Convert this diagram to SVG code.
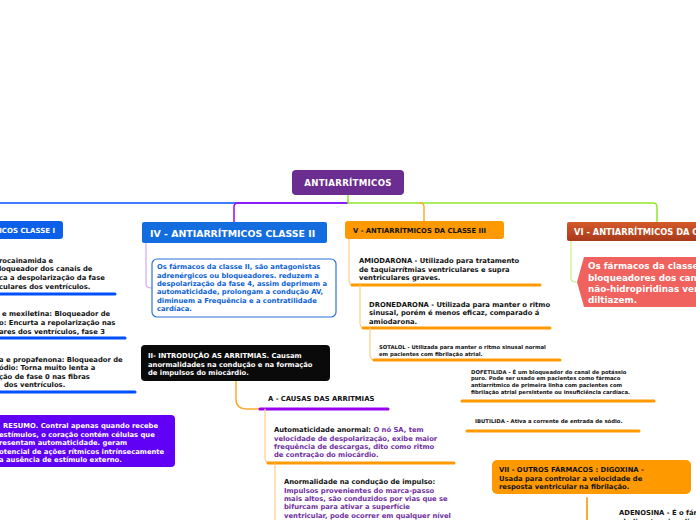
<svg xmlns="http://www.w3.org/2000/svg" width="696" height="520" viewBox="0 0 696 520">
<defs>
<style>
text{font-family:"DejaVu Sans",Verdana,sans-serif;font-weight:bold;}
.t{font-size:6.8px;fill:#111;}
.w{fill:#fff;}
.pu{fill:#7030a0;}
.bl{fill:#0b5fd6;}
.sm{font-size:5.3px;fill:#111;}
.ln{fill:none;stroke-linecap:round;}
.ub{stroke:#0050ff;stroke-width:3;}
.uo{stroke:#ff9900;stroke-width:3;}
.lo{stroke:#ffcc88;stroke-width:1.2;}
</style>
<linearGradient id="g6" x1="0" y1="0" x2="0" y2="1">
<stop offset="0" stop-color="#d45a2a"/>
<stop offset="1" stop-color="#a8391a"/>
</linearGradient>
</defs>
<rect width="696" height="520" fill="#fff"/>
<g id="connectors">
<path class="ln" d="M0,203 H348" stroke="#0050ff" stroke-width="1.5"/>
<path class="ln" d="M348,203 H238 Q234,203 234,207 V222" stroke="#a000ff" stroke-width="1.5"/>
<path class="ln" d="M348,195 V203 H653 Q657,203 657,207 V222" stroke="#8fe82c" stroke-width="1.5"/>
<path class="ln" d="M420,203 Q424,203 424,207 V221" stroke="#ffaa33" stroke-width="1.5"/>
<path class="ln" d="M146,243 V284 Q146,288 152,288" stroke="#d3a8f5" stroke-width="1.2"/>
<path class="ln" d="M236,381 V399 Q236,409 247,409 H262" stroke="#ffaa33" stroke-width="1.5"/>
<path class="ln" d="M260,409 H388" stroke="#9a00f0" stroke-width="3"/>
<path class="ln lo" d="M265,409 V458 Q265,463 270,463"/>
<path class="ln uo" d="M268,463 H454"/>
<path class="ln lo" d="M275,463 V522"/>
<path class="ln lo" d="M349,239 V280 Q349,285 354,285"/>
<path class="ln uo" d="M352,285 H540"/>
<path class="ln lo" d="M360,285 V323 Q360,328 365,328"/>
<path class="ln uo" d="M363,328 H550"/>
<path class="ln lo" d="M370,328 V355 Q370,360 375,360"/>
<path class="ln uo" d="M374,360 H560"/>
<path class="ln uo" d="M462,401 H654"/>
<path class="ln uo" d="M467,431 H639"/>
<path class="ln" d="M587,498 V522" stroke="#ffaa33" stroke-width="2"/>
<path class="ln" d="M571,241 V278 Q571,282 576,282" stroke="#c8f08c" stroke-width="1.2"/>
<path class="ln ub" d="M-2,294 H115"/>
<path class="ln ub" d="M-2,338 H125"/>
<path class="ln ub" d="M-2,392 H135"/>
</g>
<g id="root">
<rect x="292" y="170" width="112" height="25" rx="4" fill="#6b2d90"/>
<text x="348" y="186" text-anchor="middle" class="w" font-size="8.6" letter-spacing="0.3">ANTIARRÍTMICOS</text>
</g>
<g id="classe1">
<rect x="-10" y="221" width="73" height="18" rx="3" fill="#0b5fe8"/>
<text x="55" y="233" text-anchor="end" class="w" font-size="7">ANTIARRÍTMICOS CLASSE I</text>
</g>
<g id="classe1-a">
<text class="t"><tspan x="-1" y="262.5">rocainamida e</tspan><tspan x="-1" y="271">loqueador dos canais de</tspan><tspan x="-1" y="280">ca a despolarização da fase</tspan><tspan x="-1" y="288.5">culares dos ventrículos.</tspan></text>
</g>
<g id="classe1-b">
<text class="t"><tspan x="2" y="316">e mexiletina: Bloqueador de</tspan><tspan x="-1" y="325">o: Encurta a repolarização nas</tspan><tspan x="-1" y="333.5">ares dos ventrículos, fase 3</tspan></text>
</g>
<g id="classe1-c">
<text class="t"><tspan x="-1" y="361.5">a e propafenona: Bloqueador de</tspan><tspan x="-1" y="370">ódio: Torna muito lenta a</tspan><tspan x="-1" y="378.5">ção de fase 0 nas fibras</tspan><tspan x="4" y="387">dos ventrículos.</tspan></text>
</g>
<g id="resumo">
<rect x="-10" y="415" width="185" height="52" rx="4" fill="#6000f5"/>
<text class="t w" font-size="7.2"><tspan x="3" y="428">RESUMO. Contral apenas quando recebe</tspan><tspan x="-1" y="436.5">estímulos, o coração contém células que</tspan><tspan x="-1" y="445">resentam automaticidade. geram</tspan><tspan x="-1" y="453.5">otencial de ações rítmicos intrínsecamente</tspan><tspan x="-1" y="462">a ausência de estímulo externo.</tspan></text>
</g>
<g id="classe2">
<rect x="142" y="222" width="185" height="21" rx="2" fill="#136ddf"/>
<text x="150" y="236.5" class="w" font-size="9.4">IV - ANTIARRÍTMICOS CLASSE II</text>
</g>
<g id="classe2-texto">
<rect x="152" y="259" width="184" height="58" rx="5" fill="#fff" stroke="#2a72d8" stroke-width="1.2"/>
<text class="t bl" font-size="6.9"><tspan x="157" y="269">Os fármacos da classe II, são antagonistas</tspan><tspan x="157" y="277.5">adrenérgicos ou bloqueadores. reduzem a</tspan><tspan x="157" y="286">despolarização da fase 4, assim deprimem a</tspan><tspan x="157" y="294.3">automaticidade, prolongam a condução AV,</tspan><tspan x="157" y="302.7">diminuem a Frequência e a contratilidade</tspan><tspan x="157" y="311.3">cardíaca.</tspan></text>
</g>
<g id="introducao">
<rect x="141" y="345" width="189" height="36" rx="4" fill="#0a0a0a"/>
<text class="t w" font-size="7.2"><tspan x="148" y="358">II- INTRODUÇÃO AS ARRITMIAS. Causam</tspan><tspan x="148" y="366.5">anormalidades na condução e na formação</tspan><tspan x="148" y="375">de impulsos do miocárdio.</tspan></text>
</g>
<g id="causas">
<text x="268" y="401" class="t">A - CAUSAS DAS ARRITMIAS</text>
</g>
<g id="automaticidade">
<text class="t"><tspan x="274" y="432">Automaticidade anormal: </tspan><tspan class="pu">O nó SA, tem</tspan></text>
<text class="t pu"><tspan x="274" y="440.5">velocidade de despolarização, exibe maior</tspan><tspan x="274" y="449">frequência de descargas, dito como ritmo</tspan><tspan x="274" y="457.3">de contração do miocárdio.</tspan></text>
</g>
<g id="conducao">
<text x="284" y="484" class="t">Anormalidade na condução de impulso:</text>
<text class="t pu"><tspan x="284" y="492.5">Impulsos provenientes do marca-passo</tspan><tspan x="284" y="501">mais altos, são conduzidos por vias que se</tspan><tspan x="284" y="509.3">bifurcam para ativar a superfície</tspan><tspan x="284" y="517.7">ventricular, pode ocorrer em qualquer nível</tspan></text>
</g>
<g id="classe3">
<rect x="345" y="221" width="159" height="18" rx="3" fill="#ff9900"/>
<text x="353" y="233" class="t" font-size="7.3">V - ANTIARRÍTMICOS DA CLASSE III</text>
</g>
<g id="amiodarona">
<text class="t"><tspan x="359" y="263">AMIODARONA - Utilizado para tratamento</tspan><tspan x="359" y="271.5">de taquiarrítmias ventriculares e supra</tspan><tspan x="359" y="280">ventriculares graves.</tspan></text>
</g>
<g id="dronedarona">
<text class="t"><tspan x="369" y="307">DRONEDARONA - Utilizada para manter o ritmo</tspan><tspan x="369" y="315.3">sinusal, porém  é menos eficaz, comparado á</tspan><tspan x="369" y="323.7">amiodarona.</tspan></text>
</g>
<g id="sotalol">
<text class="sm"><tspan x="379" y="348.5">SOTALOL - Utilizada para manter o ritmo sinusal normal</tspan><tspan x="379" y="356">em pacientes com  fibrilação atrial.</tspan></text>
</g>
<g id="dofetilida">
<text class="sm" font-size="5.5"><tspan x="471" y="373.5">DOFETILIDA - É um bloqueador do canal de potássio</tspan><tspan x="471" y="380.3">puro. Pode ser usado em pacientes como fármaco</tspan><tspan x="471" y="387">antiarrítmico de primeira linha com  pacientes com</tspan><tspan x="471" y="393.5">fibrilação atrial persistente ou insuficiência cardíaca.</tspan></text>
</g>
<g id="ibutilida">
<text x="475" y="423" class="sm">IBUTILIDA - Ativa a corrente de entrada de sódio.</text>
</g>
<g id="classe4">
<rect x="567" y="222" width="140" height="19" rx="2" fill="url(#g6)"/>
<text x="574" y="235" class="w" font-size="8.3">VI - ANTIARRÍTMICOS DA CLASSE IV</text>
</g>
<g id="classe4-texto">
<polygon points="577,282 584,257 700,257 700,307 584,307" fill="#f0625d"/>
<text class="w" font-size="8.8"><tspan x="588" y="268.5">Os fármacos da classe IV</tspan><tspan x="588" y="280.5">bloqueadores dos canais</tspan><tspan x="588" y="292.3">não-hidropiridinas verapamil</tspan><tspan x="588" y="303">diltiazem.</tspan></text>
</g>
<g id="outros">
<rect x="492" y="460" width="199" height="34" rx="5" fill="#ff9900"/>
<text class="t"><tspan x="499" y="472">VII - OUTROS FÁRMACOS : DIGOXINA -</tspan><tspan x="499" y="480.5">Usada para controlar a velocidade de</tspan><tspan x="499" y="489">resposta ventricular na fibrilação.</tspan></text>
</g>
<g id="adenosina">
<text class="t"><tspan x="619" y="515">ADENOSINA - É o fármaco</tspan><tspan x="619" y="524">abolir a taquicardia</tspan></text>
</g>
</svg>
